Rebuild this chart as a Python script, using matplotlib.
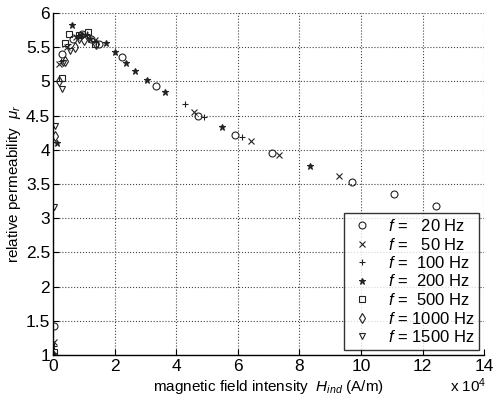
import numpy as np
import matplotlib
matplotlib.use('Agg')
import matplotlib.pyplot as plt

plt.rcParams['font.family'] = ['Liberation Sans', 'DejaVu Sans']
plt.rcParams['mathtext.fontset'] = 'custom'
plt.rcParams['mathtext.it'] = 'Liberation Sans:italic'
plt.rcParams['mathtext.rm'] = 'Liberation Sans'

# Data (H in A/m, mu_r)
h20 = [300, 3000, 6500, 9500, 12500, 15000, 22400, 33500, 47000, 59100, 71200,
       97100, 110900, 124500]
mu20 = [1.42, 5.40, 5.62, 5.70, 5.62, 5.55, 5.35, 4.93, 4.49, 4.22, 3.95,
        3.53, 3.35, 3.18]

h50 = [300, 2000, 4500, 7500, 10500, 13500, 45700, 64200, 73500, 93000]
mu50 = [1.19, 5.25, 5.50, 5.65, 5.68, 5.60, 4.55, 4.13, 3.92, 3.62]

h100 = [300, 2500, 5000, 8000, 11000, 14000, 42800, 48900, 61300]
mu100 = [1.13, 5.30, 5.55, 5.68, 5.70, 5.58, 4.67, 4.48, 4.19]

h200 = [300, 1300, 6100, 9000, 12000, 17300, 20100, 23600, 26800, 30400,
        36400, 55000, 83400]
mu200 = [1.02, 4.10, 5.82, 5.68, 5.62, 5.56, 5.43, 5.27, 5.15, 5.02, 4.85,
         4.33, 3.76]

h500 = [300, 2900, 3800, 5100, 8500, 11500, 13500]
mu500 = [1.05, 5.05, 5.56, 5.70, 5.68, 5.72, 5.55]

h1000 = [600, 2000, 4000, 7000, 10000, 14000]
mu1000 = [4.20, 5.00, 5.30, 5.50, 5.60, 5.55]

h1500 = [400, 600, 2900, 3200, 5500, 8500]
mu1500 = [3.16, 4.35, 4.89, 5.27, 5.45, 5.60]

lstSeries = [(h20, mu20, 'o', r'$f$ =   20 Hz'),
             (h50, mu50, 'x', r'$f$ =   50 Hz'),
             (h100, mu100, '+', r'$f$ =  100 Hz'),
             (h200, mu200, '*', r'$f$ =  200 Hz'),
             (h500, mu500, 's', r'$f$ =  500 Hz'),
             (h1000, mu1000, 'd', r'$f$ = 1000 Hz'),
             (h1500, mu1500, 'v', r'$f$ = 1500 Hz')]

fgr01 = plt.figure(figsize=(4.95, 4.0), dpi=100)
axs01 = fgr01.add_axes([0.107, 0.1125, 0.871, 0.855])

for vecH, vecMu, strMrk, strLbl in lstSeries:
    if strMrk in ('x', '+', '*'):
        axs01.plot(vecH, vecMu, linestyle='none', marker=strMrk,
                   color='#222222', markersize=5, markeredgewidth=0.8,
                   label=strLbl)
    else:
        axs01.plot(vecH, vecMu, linestyle='none', marker=strMrk,
                   markerfacecolor='none', markeredgecolor='#222222',
                   markersize=5, markeredgewidth=0.8, label=strLbl)

axs01.set_xlim(0, 140000)
axs01.set_ylim(1, 6)
axs01.set_xticks(np.arange(0, 140001, 20000))
axs01.set_xticklabels([str(i) for i in range(0, 15, 2)])
axs01.set_yticks(np.arange(1, 6.01, 0.5))
axs01.set_yticklabels(['1', '1.5', '2', '2.5', '3', '3.5', '4', '4.5', '5',
                       '5.5', '6'])

axs01.grid(True, linestyle=':', color='#444444', linewidth=0.8)
axs01.spines['top'].set_visible(False)
axs01.spines['right'].set_visible(False)
axs01.spines['left'].set_linewidth(1.0)
axs01.spines['bottom'].set_linewidth(1.0)
axs01.tick_params(direction='in', labelsize=12.5, length=4, width=0.8,
                  top=False, right=False)
axs01.tick_params(axis='x', pad=3)
axs01.tick_params(axis='y', pad=2)

axs01.set_xlabel(r'magnetic field intensity  $H_{ind}$ (A/m)', fontsize=11,
                 labelpad=3)
axs01.set_ylabel(r'relative permeability  $\mu_r$', fontsize=11, labelpad=2)
fgr01.text(0.945, 0.036, r'x 10$^4$', fontsize=11, ha='center', va='center')

lgd01 = axs01.legend(loc='lower right', frameon=True, fancybox=False,
                     edgecolor='black', fontsize=12, handletextpad=0.8,
                     borderpad=0.3, labelspacing=0.15, handlelength=1.5,
                     borderaxespad=0.3)
lgd01.get_frame().set_linewidth(1.0)

fgr01.savefig('out.png', dpi=100, facecolor='w')
plt.close(fgr01)
